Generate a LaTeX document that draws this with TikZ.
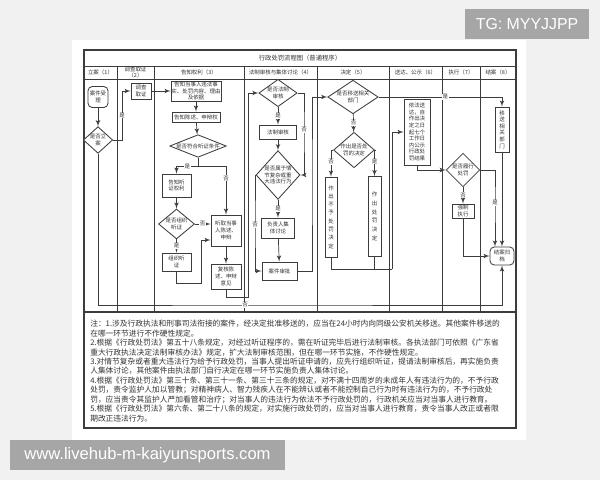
\documentclass[tikz,border=0pt]{standalone}
\usepackage{fontspec}
\setmainfont{Noto Sans CJK SC}
\newfontfamily\wmfont{Liberation Sans}
\usetikzlibrary{shapes,arrows}
\usetikzlibrary{positioning}
\definecolor{linegray}{HTML}{3C3C3C}
\definecolor{textgray}{HTML}{333333}
\definecolor{pagegray}{HTML}{F1F1F1}
\definecolor{markgray}{HTML}{A6A6A6}
\newcommand{\flowfont}{\fontsize{3.9}{4.7}\selectfont}
\newcommand{\notefont}{\fontsize{5.5}{6.7}\selectfont}
\tikzstyle{block} = [rectangle, draw=linegray, fill=white, line width=0.6pt,
    align=center, inner sep=0pt, text=textgray, font=\flowfont]
\tikzstyle{terminal} = [block, rounded corners=3pt]
\tikzstyle{decision} = [diamond, draw=linegray, fill=white, line width=0.6pt,
    align=center, inner sep=0pt, text=textgray, font=\flowfont]
\tikzstyle{line} = [draw=linegray, line width=0.5pt, -latex']
\tikzstyle{lane} = [draw=linegray, line width=0.5pt]
\tikzstyle{lbl} = [fill=white, inner sep=0.4pt, text=textgray, font=\flowfont]
\tikzstyle{head} = [text=textgray, font=\flowfont, align=center, inner sep=0pt]
\tikzstyle{wmark} = [fill=markgray, text=white, inner sep=0pt, minimum height=0.75cm]
\tikzset{sz/.style 2 args={minimum width=#1*0.025cm, minimum height=#2*0.025cm}}

\begin{document}
\begin{tikzpicture}[x=0.025cm, y=-0.025cm, node distance = 2cm]
    \useasboundingbox (0,0) rectangle (600,480);
    % Background and lanes
    \fill[pagegray] (0,0) rectangle (600,480);
    \fill[white] (72,40) rectangle (526,440);
    \draw[lane, line width=0.8pt] (84,50) rectangle (516,312);
    \draw[lane] (84,66) -- (516,66);
    \draw[lane] (84,79) -- (516,79);
    \foreach \x in {117,154,244,317,389,442,480}
        \draw[lane] (\x,66) -- (\x,312);
    \draw[lane, line width=0.8pt] (84,312) rectangle (516,428);

    % Heads
    \node [head, font=\fontsize{4.5}{5.4}\selectfont] (title) at (300,58) {行政处罚流程图（普通程序）};
    \node [head] (h1) at (100.5,72.5) {立案（1）};
    \node [head] (h2) at (135.5,72.5) {调查取证\\（2）};
    \node [head] (h3) at (199,72.5) {告知权利（3）};
    \node [head] (h4) at (280.5,72.5) {法制审核与集体讨论（4）};
    \node [head] (h5) at (353,72.5) {决定（5）};
    \node [head] (h6) at (415.5,72.5) {送达、公示（6）};
    \node [head] (h7) at (461,72.5) {执行（7）};
    \node [head] (h8) at (498,72.5) {结案（8）};

    % Place nodes
    \node [terminal, sz={20}{21}] (ajsl) at (98,97) {案件受\\理};
    \node [decision, sz={28}{26}, aspect=1.1] (sfla) at (98,140) {是否立\\案};
    \node [block, sz={20}{16}] (dcqz) at (141,91) {调查\\取证};
    \node [block, sz={50}{20}] (gzsy) at (196,91) {告知当事人违法事\\实、处罚内容、理由\\及依据};
    \node [block, sz={48}{10}] (gzcs) at (196,117) {告知陈述、申辩权};
    \node [decision, sz={55}{22}, aspect=2.5] (sfty) at (198,146) {是否符合听证条件};
    \node [block, sz={29}{23}] (gztq) at (176.5,185.5) {告知听\\证权利};
    \node [decision, sz={32}{26}, aspect=1.2] (sfzz) at (176.5,224) {是否组织\\听证};
    \node [block, sz={29}{18}] (zztz) at (176.5,262) {组织听\\证};
    \node [block, sz={30}{31}] (tqcs) at (226,230.5) {听取当事\\人陈述、\\申辩};
    \node [block, sz={30}{25}] (fhcs) at (226,276.5) {复核陈\\述、申辩\\意见};
    \node [decision, sz={34}{24}, aspect=1.4] (sffz) at (278,93) {是否法制\\审核};
    \node [block, sz={37}{14}] (fzsh) at (278,132) {法制审核};
    \node [decision, sz={40}{45}, aspect=0.9] (sfsy) at (278,175) {是否属于情\\节复杂或重\\大违法行为};
    \node [block, sz={33}{20}] (fzrt) at (278,228) {负责人集\\体讨论};
    \node [block, sz={35}{18}] (ajsp) at (279.5,271) {案件审批};
    \node [decision, sz={45}{30}, aspect=1.5] (sfys) at (353,97) {是否移送相关\\部门};
    \node [decision, sz={40}{35}, aspect=1.15] (zcsf) at (354,150) {作出是否处\\罚的决定};
    \node [block, sz={12}{80}, font=\fontsize{3.9}{5.9}\selectfont] (bycf) at (331,217) {作\\出\\不\\予\\处\\罚\\决\\定};
    \node [block, sz={13}{80}, font=\fontsize{3.9}{6.2}\selectfont] (zccf) at (374.5,216.5) {作\\出\\处\\罚\\决\\定};
    \node [block, sz={26}{66}] (yfsd) at (417,132) {依法送\\达，自\\作出决\\定之日\\起七个\\工作日\\内公示\\行政处\\罚结果};
    \node [decision, sz={32}{31}, aspect=1] (sflx) at (463,170) {是否履行\\处罚};
    \node [block, sz={22}{14}] (qzzx) at (463,211) {强制\\执行};
    \node [block, sz={14}{45}] (ysbm) at (502,129.5) {移\\送\\相\\关\\部\\门};
    \node [terminal, sz={24}{18}] (jagd) at (502,256) {结案归\\档};

    % Bends
    \coordinate (b1) at (201,283);
    \coordinate (b2) at (201,240);
    \coordinate (b3) at (248,297);
    \coordinate (b4) at (304,130);
    \coordinate (b5) at (255,225);
    \coordinate (b6) at (312,180);
    \coordinate (b7) at (392,269);
    \coordinate (b8) at (495,203);
    \coordinate (b9) at (245,305);

    % Draw edges
    \path [line] (ajsl) -- (sfla);
    \path [line] (sfla.east) -- ++(9,0) |- (dcqz.west) node [lbl, pos=0.25] (y1) {是};
    \path [line] (dcqz) -- (gzsy);
    \path [line] (gzsy) -- (gzcs);
    \path [line] (gzcs) -- (sfty);
    \draw [lane] (sfty.south) -- ++(0,9) coordinate (sp1);
    \path [line] (sp1) -| (gztq) node [lbl, pos=0.25] (y2) {是};
    \path [line] (sp1) -| (tqcs) node [lbl, pos=0.62] (n2) {否};
    \path [line] (gztq) -- (sfzz);
    \path [line] (sfzz) -- (zztz) node [lbl, midway] (y3) {是};
    \path [line] (sfzz.east) -- (sfzz.east -| tqcs.west) node [lbl, midway] (n3) {否};
    \path [line] (zztz.south) |- (b1) -- (b2) -- (b2 -| tqcs.west);
    \path [line] (tqcs) -- (fhcs);
    \path [line] (fhcs.south) |- (b3) |- (sffz.west);
    \path [line] (sffz) -- (fzsh) node [lbl, midway] (y4) {是};
    \path [line] (sffz.east) -| (b4) |- (sfsy.east);
    \node [lbl] (n4) at (b4) {否};
    \path [line] (fzsh) -- (sfsy);
    \path [line] (sfsy) -- (fzrt) node [lbl, midway] (y5) {是};
    \path [line] (sfsy.west) -| (b5) |- (ajsp.west);
    \node [lbl] (n5) at (b5) {否};
    \path [line] (fzrt) -- (ajsp);
    \path [line] (ajsp.east) -| (b6) |- (sfys.west);
    \path [line] (sfys.east) -| (ysbm.north) node [lbl, pos=0.27] (y6) {是};
    \path [line] (sfys) -- (zcsf) node [lbl, midway] (n6) {否};
    \path [line] (zcsf.west) -| (bycf) node [lbl, pos=0.72] (n7) {否};
    \path [line] (zcsf.east) -| (zccf) node [lbl, pos=0.72] (y7) {是};
    \draw [lane] (bycf.south) |- (b7);
    \draw [lane] (zccf.south) -- (zccf.south |- b7);
    \path [line] (b7) |- (yfsd.west);
    \path [line] (yfsd.south) |- (sflx.west);
    \path [line] (sflx) -- (qzzx) node [lbl, midway] (n8) {否};
    \path [line] (sflx.east) -| (b8) -- (b8 |- jagd.north);
    \node [lbl] (y8) at (b8) {是};
    \path [line] (qzzx.south) |- (jagd.west);
    \path [line] (ysbm) -- (jagd);
    \path [line] (sfla.south) |- (b9) -| (jagd.south);
    \node [lbl] (n9) at (b9) {否};

    % Notes
    \node [anchor=north west, align=left, text=textgray, font=\notefont, inner sep=0pt] (notes) at (90,320) {注：1.涉及行政执法和刑事司法衔接的案件，经决定批准移送的，应当在24小时内向同级公安机关移送。其他案件移送的\\
在哪一环节进行不作硬性规定。\\
2.根据《行政处罚法》第五十八条规定，对经过听证程序的，需在听证完毕后进行法制审核。各执法部门可依照《广东省\\
重大行政执法决定法制审核办法》规定，扩大法制审核范围，但在哪一环节实施，不作硬性规定。\\
3.对情节复杂或者重大违法行为给予行政处罚，当事人提出听证申请的，应先行组织听证，提请法制审核后，再实施负责\\
人集体讨论，其他案件由执法部门自行决定在哪一环节实施负责人集体讨论。\\
4.根据《行政处罚法》第三十条、第三十一条、第三十三条的规定，对不满十四周岁的未成年人有违法行为的，不予行政\\
处罚，责令监护人加以管教；对精神病人、智力残疾人在不能辨认或者不能控制自己行为时有违法行为的，不予行政处\\
罚，应当责令其监护人严加看管和治疗；对当事人的违法行为依法不予行政处罚的，行政机关应当对当事人进行教育。\\
5.根据《行政处罚法》第六条、第二十八条的规定，对实施行政处罚的，应当对当事人进行教育，责令当事人改正或者限\\
期改正违法行为。};

    % Marks
    \node [wmark, minimum width=3.1cm, font=\wmfont\fontsize{11.3}{13}\selectfont] (tg) at (527,24) {TG: MYYJJPP};
    \node [wmark, minimum width=6.875cm, font=\wmfont\fontsize{11.8}{13}\selectfont] (site) at (147.5,455) {www.livehub-m-kaiyunsports.com};
\end{tikzpicture}
\end{document}
